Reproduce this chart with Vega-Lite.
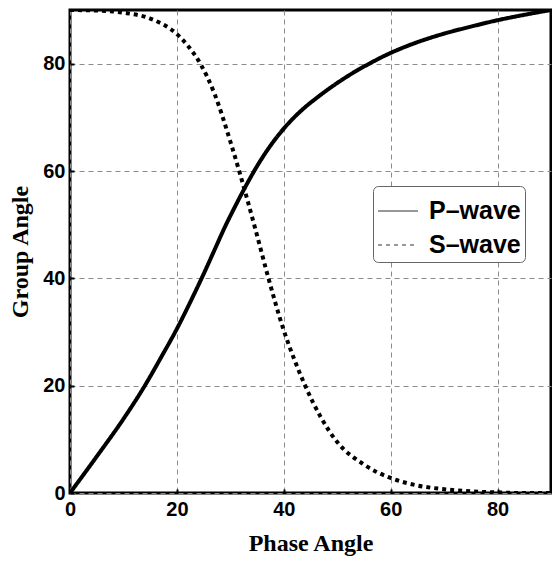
{
  "$schema": "https://vega.github.io/schema/vega-lite/v6.json",
  "autosize": {"type": "none"},
  "padding": {"left": 70, "top": 10, "right": 1, "bottom": 70},
  "width": 481,
  "height": 483,
  "background": "white",
  "config": {
    "view": {"stroke": "black", "strokeWidth": 3},
    "axis": {
      "domain": false,
      "grid": true,
      "gridColor": "#8a8a8a",
      "gridDash": [5, 4],
      "gridWidth": 1,
      "gridOpacity": 1,
      "ticks": true,
      "tickSize": -4,
      "tickWidth": 2,
      "tickColor": "black",
      "labelFlush": false,
      "labelFont": "Liberation Sans",
      "labelFontWeight": "bold",
      "labelFontSize": 20,
      "labelColor": "black",
      "titleFont": "Liberation Serif",
      "titleFontWeight": "bold",
      "titleFontSize": 24,
      "titleColor": "black"
    }
  },
  "data": {
    "values": [
      {"phase": 0, "angle": 0, "wave": "P–wave"},
      {"phase": 5, "angle": 6.8, "wave": "P–wave"},
      {"phase": 10, "angle": 13.8, "wave": "P–wave"},
      {"phase": 14, "angle": 20, "wave": "P–wave"},
      {"phase": 17, "angle": 25.2, "wave": "P–wave"},
      {"phase": 20, "angle": 30.6, "wave": "P–wave"},
      {"phase": 23, "angle": 36.6, "wave": "P–wave"},
      {"phase": 25, "angle": 40.8, "wave": "P–wave"},
      {"phase": 27, "angle": 45.2, "wave": "P–wave"},
      {"phase": 29, "angle": 49.6, "wave": "P–wave"},
      {"phase": 31, "angle": 53.6, "wave": "P–wave"},
      {"phase": 33, "angle": 57.4, "wave": "P–wave"},
      {"phase": 35, "angle": 60.9, "wave": "P–wave"},
      {"phase": 37, "angle": 64.0, "wave": "P–wave"},
      {"phase": 40, "angle": 67.9, "wave": "P–wave"},
      {"phase": 42, "angle": 70.05, "wave": "P–wave"},
      {"phase": 44, "angle": 71.9, "wave": "P–wave"},
      {"phase": 46, "angle": 73.5, "wave": "P–wave"},
      {"phase": 48, "angle": 75.0, "wave": "P–wave"},
      {"phase": 50, "angle": 76.4, "wave": "P–wave"},
      {"phase": 52, "angle": 77.7, "wave": "P–wave"},
      {"phase": 54, "angle": 78.9, "wave": "P–wave"},
      {"phase": 56, "angle": 80.0, "wave": "P–wave"},
      {"phase": 58, "angle": 81.05, "wave": "P–wave"},
      {"phase": 60, "angle": 82.0, "wave": "P–wave"},
      {"phase": 62, "angle": 82.86, "wave": "P–wave"},
      {"phase": 65, "angle": 84.0, "wave": "P–wave"},
      {"phase": 70, "angle": 85.6, "wave": "P–wave"},
      {"phase": 75, "angle": 86.9, "wave": "P–wave"},
      {"phase": 80, "angle": 88.1, "wave": "P–wave"},
      {"phase": 85, "angle": 89.1, "wave": "P–wave"},
      {"phase": 90, "angle": 90, "wave": "P–wave"},
      {"phase": 0, "angle": 90, "wave": "S–wave"},
      {"phase": 5, "angle": 89.9, "wave": "S–wave"},
      {"phase": 10, "angle": 89.5, "wave": "S–wave"},
      {"phase": 15, "angle": 88.4, "wave": "S–wave"},
      {"phase": 20, "angle": 85.5, "wave": "S–wave"},
      {"phase": 22, "angle": 83.4, "wave": "S–wave"},
      {"phase": 24.5, "angle": 79.8, "wave": "S–wave"},
      {"phase": 27, "angle": 74.5, "wave": "S–wave"},
      {"phase": 30, "angle": 65.5, "wave": "S–wave"},
      {"phase": 33, "angle": 55.3, "wave": "S–wave"},
      {"phase": 35, "angle": 48, "wave": "S–wave"},
      {"phase": 37, "angle": 40.5, "wave": "S–wave"},
      {"phase": 40, "angle": 30.3, "wave": "S–wave"},
      {"phase": 42, "angle": 24.8, "wave": "S–wave"},
      {"phase": 44, "angle": 20, "wave": "S–wave"},
      {"phase": 47, "angle": 14, "wave": "S–wave"},
      {"phase": 50, "angle": 9.5, "wave": "S–wave"},
      {"phase": 55, "angle": 5.3, "wave": "S–wave"},
      {"phase": 60, "angle": 2.8, "wave": "S–wave"},
      {"phase": 65, "angle": 1.4, "wave": "S–wave"},
      {"phase": 70, "angle": 0.7, "wave": "S–wave"},
      {"phase": 75, "angle": 0.3, "wave": "S–wave"},
      {"phase": 80, "angle": 0.1, "wave": "S–wave"},
      {"phase": 85, "angle": 0, "wave": "S–wave"},
      {"phase": 90, "angle": 0, "wave": "S–wave"}
    ]
  },
  "mark": {"type": "line", "color": "black", "strokeWidth": 4, "strokeCap": "butt", "interpolate": "monotone", "clip": true},
  "encoding": {
    "x": {
      "field": "phase", "type": "quantitative", "title": "Phase Angle",
      "scale": {"domain": [0, 90], "nice": false},
      "axis": {"values": [0, 20, 40, 60, 80], "labelPadding": 10, "titlePadding": 12}
    },
    "y": {
      "field": "angle", "type": "quantitative", "title": "Group Angle",
      "scale": {"domain": [0, 90], "nice": false},
      "axis": {"values": [0, 20, 40, 60, 80], "labelPadding": 9, "titlePadding": 10}
    },
    "strokeDash": {
      "field": "wave", "type": "nominal",
      "scale": {"domain": ["P–wave", "S–wave"], "range": [[1, 0], [4, 4]]},
      "legend": {
        "title": null,
        "orient": "none",
        "legendX": 303,
        "legendY": 176,
        "strokeColor": "#666",
        "cornerRadius": 5,
        "padding": 4,
        "fillColor": "white",
        "symbolType": "stroke",
        "symbolSize": 1600,
        "symbolStrokeWidth": 1.5,
        "symbolStrokeColor": "#777",
        "labelFont": "Liberation Sans",
        "labelFontWeight": "bold",
        "labelFontSize": 25,
        "labelColor": "black",
        "labelOffset": 10,
        "rowPadding": -6
      }
    }
  }
}
